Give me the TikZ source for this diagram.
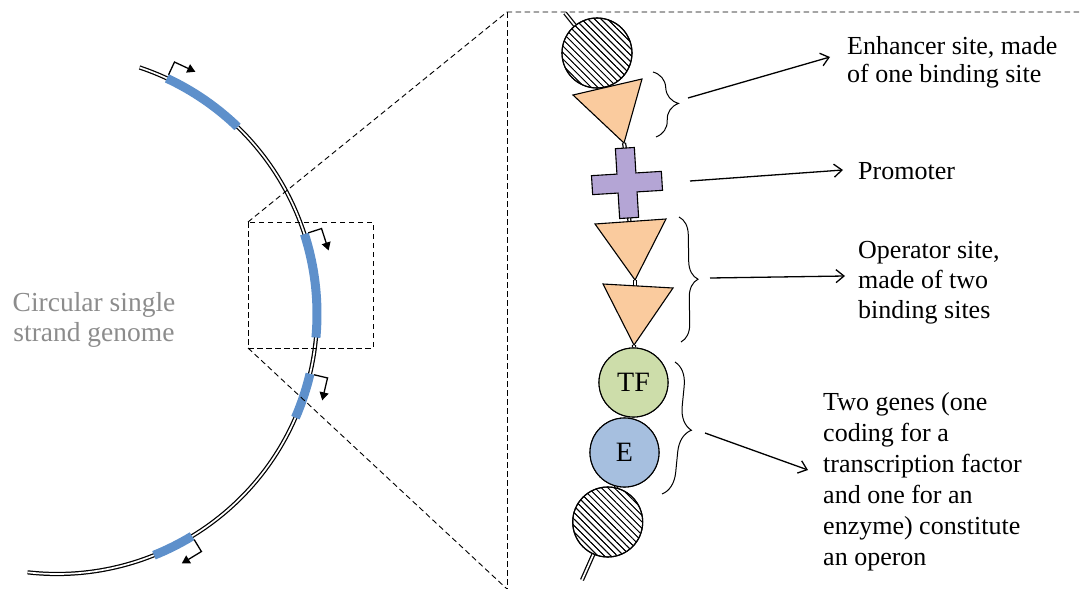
\documentclass[tikz,border=0pt]{standalone}
\usepackage{fontspec}
\setmainfont{Liberation Serif}
\usetikzlibrary{arrows.meta,patterns.meta,decorations.pathreplacing,calc}
\definecolor{segblue}{HTML}{5E90CB}
\definecolor{peach}{HTML}{FACB9E}
\definecolor{lilac}{HTML}{B4A5D5}
\definecolor{tfgreen}{HTML}{CDDDAA}
\definecolor{eblue}{HTML}{A6BFDF}
\definecolor{gtext}{HTML}{8C8C8C}
\begin{document}
\begin{tikzpicture}[x=1pt,y=-1pt,
  strand/.style={draw=black, double=white, double distance=1.7pt, line width=1.25pt},
  seg/.style={draw=segblue, line width=9pt},
  promarrow/.style={draw=black, line width=1.3pt, -{Triangle[length=8pt,width=9pt]}},
  dsh/.style={draw=black, line width=0.9pt, dash pattern=on 5.5pt off 3.5pt},
  shp/.style={draw=black, line width=1.1pt},
  hatch/.style={shp, circle, minimum size=70pt, inner sep=0pt, pattern={Lines[angle=-45,distance=4.6pt,line width=0.8pt]}},
  bead/.style={shp, circle, minimum size=69pt, inner sep=0pt, font=\fontsize{28}{30}\selectfont},
  brc/.style={draw=black, line width=1pt, decorate, decoration={brace, amplitude=#1}},
  conn/.style={draw=black, line width=1.3pt, -{Straight Barb[length=8pt,width=13pt]}},
  lbl/.style={anchor=north west, inner sep=0pt, align=left, font=\fontsize{26}{#1}\selectfont},
  gtxt/.style={anchor=north, inner sep=0pt, align=center, text=gtext, font=\fontsize{27.5}{30}\selectfont}
]
\useasboundingbox (0,0) rectangle (1080,589);

% ---- circular genome ----
\coordinate (O) at (57,314);
\coordinate (gs) at ($(O)+(-71.5:260)$);
\draw[strand] (gs) arc[start angle=-71.5,end angle=96.5,radius=260];
\foreach \a/\b [count=\i] in {-65/-46,-17.9/5.2,13.3/23.5,58.7/68.1}{
  \pgfmathsetmacro\c{\a+90}
  \coordinate (p\i) at ($(O)+(\a:260)$);
  \draw[seg] (p\i) arc[start angle=\a,end angle=\b,radius=260];
  \coordinate (o\i) at ($(O)+(\a:264)$);
  \coordinate (q\i) at ($(O)+(\a:278)$);
  \coordinate (r\i) at ($(q\i)+(\c:23)$);
  \draw[promarrow] (o\i) -- (q\i) -- (r\i);
}
\node[gtxt] (genome) at (94,292.5) {Circular single\\strand genome};

% ---- zoom box ----
\coordinate (bx1) at (248,222);
\coordinate (bx2) at (373,348);
\coordinate (bl) at (248,348);
\coordinate (z1) at (507,12);
\coordinate (z2) at (1080,12);
\coordinate (z3) at (507,589);
\draw[dsh] (bx1) rectangle (bx2);
\draw[dsh] (bx1) -- (z1) -- (z2);
\draw[dsh] (z1) -- (z3);
\draw[dsh] (bl) -- (z3);

% ---- operon detail ----
\coordinate (s0) at (565,13);
\coordinate (s9) at (582,580);
\coordinate (t1a) at (573,95);
\coordinate (t1b) at (642,79);
\coordinate (t1c) at (624,143);
\coordinate (t2a) at (595,224);
\coordinate (t2b) at (666,219);
\coordinate (t2c) at (635,280);
\coordinate (t2top) at (629.5,221.7);
\coordinate (t3a) at (603,284);
\coordinate (t3b) at (673,288);
\coordinate (t3c) at (634,345);
\coordinate (t3top) at (635,285.8);
\begin{scope}[shift={(627,183)}, rotate=3.5]
  \coordinate (crtop) at (0,-35);
  \coordinate (crbot) at (0,35);
  \coordinate (crc) at (0,0);
\end{scope}
\node[hatch] (h1) at (597,53) {};
\node[bead, fill=tfgreen] (tf) at (633.5,382.5) {TF};
\node[bead, fill=eblue] (en) at (624.5,452.5) {E};
\node[hatch] (h2) at (607.7,522) {};

\draw[strand] (s0) -- (h1);
\draw[strand] (t1c) -- (crtop);
\draw[strand] (crbot) -- (t2top);
\draw[strand] (t2c) -- (t3top);
\draw[strand] (t3c) -- (tf);
\draw[strand] (en) -- (h2);
\draw[strand] (h2) -- (s9);

\node[hatch] at (h1) {};
\node[hatch] at (h2) {};
\filldraw[shp, fill=peach] (t1a) -- (t1b) -- (t1c) -- cycle;
\filldraw[shp, fill=peach] (t2a) -- (t2b) -- (t2c) -- cycle;
\filldraw[shp, fill=peach] (t3a) -- (t3b) -- (t3c) -- cycle;
\begin{scope}[shift={(627,183)}, rotate=3.5]
  \filldraw[shp, fill=lilac] (-9.5,-35) -- (9.5,-35) -- (9.5,-9.5) -- (35,-9.5) -- (35,9.5) -- (9.5,9.5) -- (9.5,35) -- (-9.5,35) -- (-9.5,9.5) -- (-35,9.5) -- (-35,-9.5) -- (-9.5,-9.5) -- cycle;
\end{scope}
\node[bead, fill=tfgreen] at (tf) {TF};
\node[bead, fill=eblue] at (en) {E};

% ---- braces ----
\coordinate (b1s) at (653,72);  \coordinate (b1e) at (656,137);
\coordinate (b2s) at (679,217); \coordinate (b2e) at (681,342);
\coordinate (b3s) at (675,362); \coordinate (b3e) at (662,494);
\draw[brc=24] (b1s) -- (b1e);
\draw[brc=18] (b2s) -- (b2e);
\draw[brc=23] (b3s) -- (b3e);

% ---- labels ----
\node[lbl=28] (tenh) at (847,36.6) {Enhancer site, made\\of one binding site};
\node[lbl=28] (tprom) at (858,162) {Promoter};
\node[lbl=30] (toper) at (858,240.6) {Operator site,\\made of two\\binding sites};
\node[lbl=31] (tgen) at (823,392) {Two genes (one\\coding for a\\transcription factor\\and one for an\\enzyme) constitute\\an operon};

% ---- connectors ----
\coordinate (a1s) at (688,98);  \coordinate (a1e) at (830,57);
\coordinate (a2s) at (690,181); \coordinate (a2e) at (843,170);
\coordinate (a3s) at (710,278); \coordinate (a3e) at (845,276);
\coordinate (a4s) at (705,433); \coordinate (a4e) at (808,470);
\draw[conn] (a1s) -- (a1e);
\draw[conn] (a2s) -- (a2e);
\draw[conn] (a3s) -- (a3e);
\draw[conn] (a4s) -- (a4e);
\end{tikzpicture}
\end{document}
